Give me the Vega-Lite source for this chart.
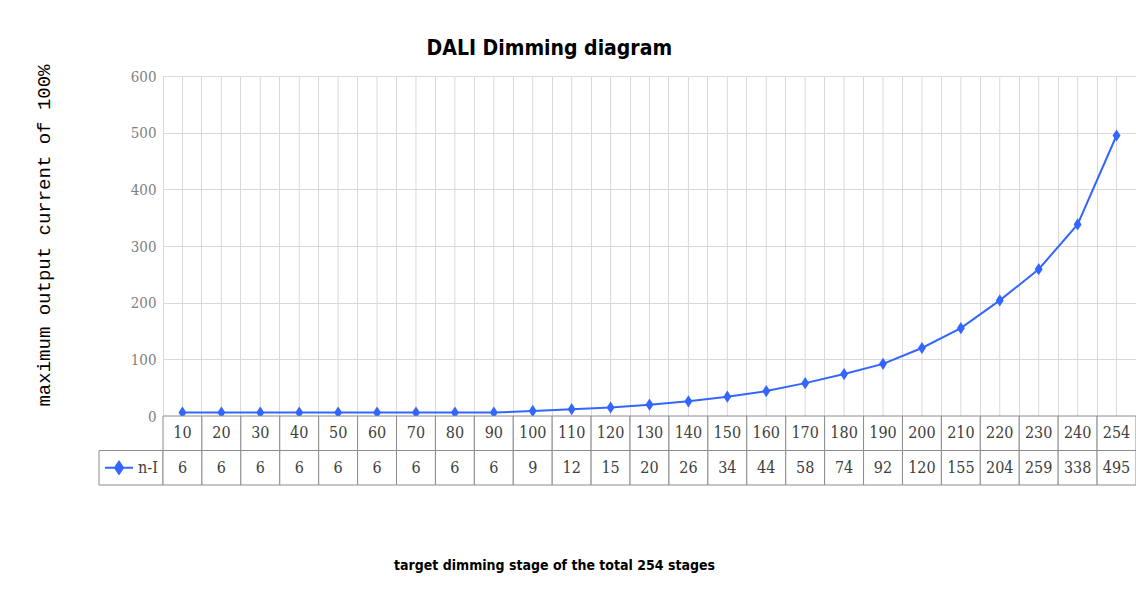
{
  "$schema": "https://vega.github.io/schema/vega-lite/v6.json",
  "padding": {"left": 34, "top": 37, "right": 0, "bottom": 10},
  "background": "white",
  "title": {
    "text": "DALI Dimming diagram",
    "font": "Liberation Sans Narrow, DejaVu Sans Condensed, Liberation Sans",
    "fontSize": 21,
    "fontWeight": "bold",
    "color": "#000000",
    "anchor": "middle",
    "offset": 5,
    "dx": -36
  },
  "datasets": {
    "dimming": [
      {"stage": 10, "value": 6},
      {"stage": 20, "value": 6},
      {"stage": 30, "value": 6},
      {"stage": 40, "value": 6},
      {"stage": 50, "value": 6},
      {"stage": 60, "value": 6},
      {"stage": 70, "value": 6},
      {"stage": 80, "value": 6},
      {"stage": 90, "value": 6},
      {"stage": 100, "value": 9},
      {"stage": 110, "value": 12},
      {"stage": 120, "value": 15},
      {"stage": 130, "value": 20},
      {"stage": 140, "value": 26},
      {"stage": 150, "value": 34},
      {"stage": 160, "value": 44},
      {"stage": 170, "value": 58},
      {"stage": 180, "value": 74},
      {"stage": 190, "value": 92},
      {"stage": 200, "value": 120},
      {"stage": 210, "value": 155},
      {"stage": 220, "value": 204},
      {"stage": 230, "value": 259},
      {"stage": 240, "value": 338},
      {"stage": 254, "value": 495}
    ],
    "series": [{"series": "n-I"}],
    "empty": [{}]
  },
  "concat": [
    {
      "data": {"name": "empty"},
      "width": 64,
      "height": 340,
      "mark": {"type": "text", "text": ""}
    },
    {
      "data": {"name": "dimming"},
      "width": 973,
      "height": 340,
      "encoding": {
        "x": {
          "field": "stage",
          "type": "ordinal",
          "scale": {"type": "band", "paddingInner": 0, "paddingOuter": 0},
          "axis": {
            "labels": false,
            "ticks": false,
            "domain": false,
            "title": null,
            "grid": true,
            "gridColor": "#d9d9d9",
            "gridWidth": 1,
            "bandPosition": 0
          }
        }
      },
      "layer": [
        {
          "mark": {"type": "rule", "color": "#d9d9d9", "strokeWidth": 1}
        },
        {
          "encoding": {
            "y": {
              "field": "value",
              "type": "quantitative",
              "scale": {"domain": [0, 600], "nice": false},
              "axis": {
                "values": [0, 100, 200, 300, 400, 500, 600],
                "grid": true,
                "gridColor": "#d9d9d9",
                "domain": false,
                "ticks": false,
                "labelFont": "DejaVu Serif Condensed, Liberation Serif",
                "labelFontSize": 15,
                "labelColor": "#808080",
                "labelPadding": 7,
                "title": "maximum output current of 100%",
                "titleFont": "Liberation Mono, DejaVu Sans Mono",
                "titleFontSize": 19,
                "titleFontWeight": "normal",
                "titleColor": "#000000",
                "titlePadding": 77,
                "titleY": 159
              }
            }
          },
          "layer": [
            {"mark": {"type": "line", "color": "#3366ff", "strokeWidth": 2}},
            {
              "mark": {
                "type": "point",
                "shape": "M0,-1L0.65,0L0,1L-0.65,0Z",
                "filled": true,
                "size": 150,
                "color": "#3366ff",
                "opacity": 1
              }
            }
          ]
        }
      ]
    },
    {
      "data": {"name": "series"},
      "width": 64,
      "height": 69,
      "encoding": {
        "x": {
          "field": "series",
          "type": "nominal",
          "scale": {"type": "band", "paddingInner": 0, "paddingOuter": 0},
          "axis": null
        },
        "y": {
          "datum": "n-I",
          "type": "nominal",
          "scale": {"domain": ["stage", "n-I"], "type": "band", "paddingInner": 0, "paddingOuter": 0},
          "axis": null
        }
      },
      "layer": [
        {"mark": {"type": "rect", "fill": "white", "stroke": "#8c8c8c", "strokeWidth": 1}},
        {
          "mark": {
            "type": "point",
            "shape": "M-1,0L1,0M0,-0.43L0.29,0L0,0.43L-0.29,0Z",
            "size": 784,
            "filled": true,
            "fill": "#3366ff",
            "stroke": "#3366ff",
            "strokeWidth": 2,
            "opacity": 1,
            "xOffset": -12
          }
        },
        {
          "mark": {
            "type": "text",
            "align": "left",
            "dx": 7,
            "font": "DejaVu Serif Condensed, Liberation Serif",
            "fontSize": 16,
            "color": "#404040"
          },
          "encoding": {"text": {"field": "series"}}
        }
      ]
    },
    {
      "data": {"name": "dimming"},
      "width": 973,
      "height": 69,
      "encoding": {
        "x": {
          "field": "stage",
          "type": "ordinal",
          "scale": {"type": "band", "paddingInner": 0, "paddingOuter": 0},
          "axis": {
            "labels": false,
            "ticks": false,
            "domain": false,
            "grid": false,
            "title": "target dimming stage of the total 254 stages",
            "titleFont": "Liberation Sans Narrow, DejaVu Sans Condensed, Liberation Sans",
            "titleFontSize": 14,
            "titleFontWeight": "bold",
            "titleColor": "#000000",
            "titlePadding": 73,
            "titleX": 391
          }
        }
      },
      "layer": [
        {
          "mark": {"type": "rect", "fill": "white", "stroke": "#8c8c8c", "strokeWidth": 1},
          "encoding": {
            "y": {
              "datum": "stage",
              "type": "nominal",
              "scale": {"domain": ["stage", "n-I"], "type": "band", "paddingInner": 0, "paddingOuter": 0},
              "axis": null
            }
          }
        },
        {
          "mark": {"type": "text", "font": "DejaVu Serif Condensed, Liberation Serif", "fontSize": 16, "color": "#404040"},
          "encoding": {
            "y": {"datum": "stage", "type": "nominal"},
            "text": {"field": "stage"}
          }
        },
        {
          "mark": {"type": "rect", "fill": "white", "stroke": "#8c8c8c", "strokeWidth": 1},
          "encoding": {"y": {"datum": "n-I", "type": "nominal"}}
        },
        {
          "mark": {"type": "text", "font": "DejaVu Serif Condensed, Liberation Serif", "fontSize": 16, "color": "#404040"},
          "encoding": {
            "y": {"datum": "n-I", "type": "nominal"},
            "text": {"field": "value"}
          }
        }
      ]
    }
  ],
  "columns": 2,
  "spacing": 0,
  "bounds": "flush",
  "align": "each",
  "resolve": {"scale": {"x": "independent", "y": "independent"}},
  "config": {
    "view": {"stroke": null},
    "title": {"frame": "bounds"}
  }
}
